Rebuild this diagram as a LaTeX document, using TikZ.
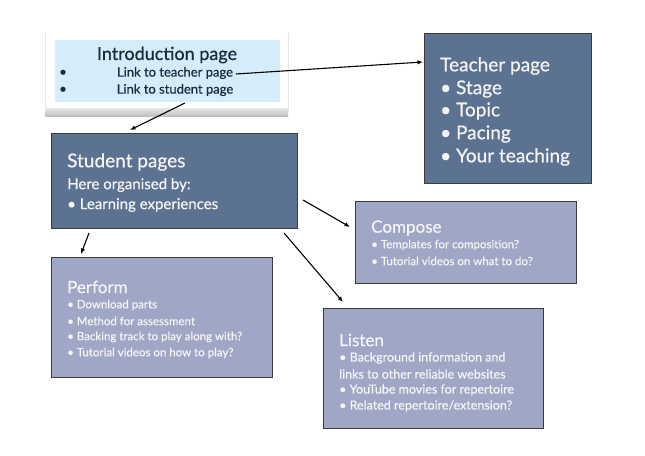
\documentclass[tikz,border=0pt]{standalone}
\usepackage{fontspec}
\setmainfont{Lato}[FakeBold=0.6]
\usetikzlibrary{arrows.meta}
\definecolor{darkbox}{HTML}{5B7291}
\definecolor{lightbox}{HTML}{9FA6C6}
\definecolor{introblue}{HTML}{D5EDFB}
\definecolor{introtext}{HTML}{1B2B45}
\definecolor{edgegray}{HTML}{3C3C3C}
\definecolor{paletext}{HTML}{F4F4F4}
\tikzset{
  boxbase/.style={draw=edgegray, line width=0.9pt, inner sep=0pt},
  darkrect/.style={boxbase, fill=darkbox},
  lightrect/.style={boxbase, fill=lightbox},
  txt/.style={anchor=west, inner sep=0pt, text=paletext},
  bigtitle/.style={txt, font=\fontsize{19}{22}\selectfont},
  midtitle/.style={txt, font=\fontsize{17}{20}\selectfont},
  subline/.style={txt, font=\fontsize{15}{18}\selectfont},
  smallline/.style={txt, font=\fontsize{11.5}{14}\selectfont},
  listenline/.style={txt, font=\fontsize{12.5}{15}\selectfont},
  introline/.style={inner sep=0pt, text=introtext, font=\fontsize{13}{15}\selectfont},
  arr/.style={-{Latex[length=5.5pt,width=4.5pt]}, line width=1.1pt, black}
}
\begin{document}
\begin{tikzpicture}[x=1pt,y=-1pt]
\useasboundingbox (0,0) rectangle (645,455);
\fill[white] (0,0) rectangle (645,455);

% Introduction "paper"
\shade[top color=white, bottom color=gray!50] (45,103) rectangle (288,116);
\fill[white] (45,33) rectangle (288,108);
\draw[gray!20] (45,33) -- (45,112) (288,33) -- (288,112);
\node[fill=introblue, inner sep=0pt, minimum width=225pt, minimum height=62pt] (intro) at (167.5,71) {};
\node[introline, font=\fontsize{18}{21}\selectfont] (introtitle) at (167,55) {Introduction page};
\node[introline] (b1) at (63,73) {•};
\node[introline] (b2) at (63,90) {•};
\node[introline] (link1) at (175,73) {Link to teacher page};
\node[introline] (link2) at (175,90) {Link to student page};

% Teacher page
\node[darkrect, minimum width=167pt, minimum height=150pt] (teacher) at (507.5,108) {};
\node[bigtitle] (tt) at (440,66) {Teacher page};
\node[bigtitle] (t1) at (440,89) {• Stage};
\node[bigtitle] (t2) at (440,111) {• Topic};
\node[bigtitle] (t3) at (440,134) {• Pacing};
\node[bigtitle] (t4) at (440,157) {• Your teaching};

% Student pages
\node[darkrect, minimum width=246pt, minimum height=95pt] (student) at (174,180.5) {};
\node[bigtitle] (st) at (67,162) {Student pages};
\node[subline] (s1) at (67,185) {Here organised by:};
\node[subline] (s2) at (67,205) {• Learning experiences};

% Perform
\node[lightrect, minimum width=221pt, minimum height=120pt] (perform) at (161.5,317) {};
\node[midtitle] (pt) at (67,287) {Perform};
\node[smallline] (p1) at (67,305) {• Download parts};
\node[smallline] (p2) at (67,321) {• Method for assessment};
\node[smallline] (p3) at (67,337) {• Backing track to play along with?};
\node[smallline] (p4) at (67,353) {• Tutorial videos on how to play?};

% Compose
\node[lightrect, minimum width=221pt, minimum height=82pt] (compose) at (465.5,242) {};
\node[midtitle] (ct) at (371,228) {Compose};
\node[smallline] (c1) at (371,245) {• Templates for composition?};
\node[smallline] (c2) at (371,261) {• Tutorial videos on what to do?};

% Listen
\node[lightrect, minimum width=220pt, minimum height=120pt] (listen) at (433,368) {};
\node[midtitle] (lt) at (339,340) {Listen};
\node[listenline] (l1) at (339,358) {• Background information and};
\node[listenline] (l2) at (339,374) {links to other reliable websites};
\node[listenline] (l3) at (339,390) {• YouTube movies for repertoire};
\node[listenline] (l4) at (339,406) {• Related repertoire/extension?};

% connector end points
\coordinate (a1s) at (236,74);
\coordinate (a1e) at (423,62);
\coordinate (a2s) at (185,103);
\coordinate (a2e) at (130,130);
\coordinate (a3s) at (89,233);
\coordinate (a3e) at (81,254);
\coordinate (a4s) at (303,200);
\coordinate (a4e) at (350,227);
\coordinate (a5s) at (284,233);
\coordinate (a5e) at (343,302);

\draw[arr] (a1s) -- (a1e);
\draw[arr] (a2s) -- (a2e);
\draw[arr] (a3s) -- (a3e);
\draw[arr] (a4s) -- (a4e);
\draw[arr] (a5s) -- (a5e);
\end{tikzpicture}
\end{document}
